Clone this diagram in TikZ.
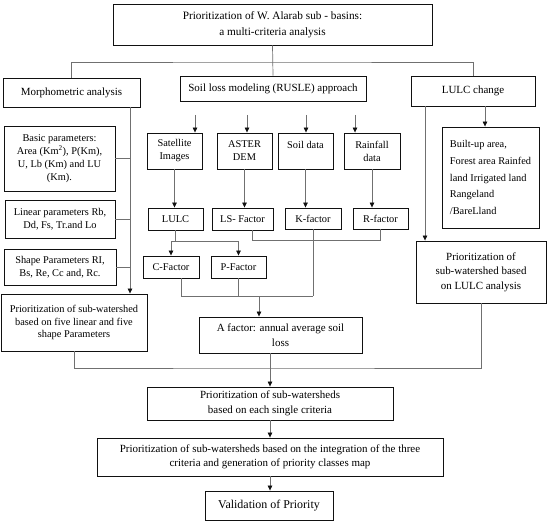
\documentclass[tikz,border=0pt]{standalone}
\usepackage{fontspec}
\setmainfont{Liberation Serif}
\usetikzlibrary{calc,positioning,arrows.meta}
\definecolor{fcInk}{HTML}{111111}
\definecolor{fcLine}{HTML}{707070}

\begin{document}
\begin{tikzpicture}[x=1bp, y=-1bp, font=\rmfamily,
  box/.style={draw=fcInk, line width=0.9bp, align=center, inner sep=1bp,
              font=\fontsize{11}{14.5}\selectfont},
  sbox/.style={box, font=\fontsize{10.4}{13}\selectfont},
  link/.style={draw=fcLine, line width=0.7bp},
  feed/.style={link, -{Triangle[length=5bp, width=4.5bp, color=fcInk]}}]

\useasboundingbox (0,0) rectangle (548,525);

% --- top level ---
\node[box, minimum width=319bp, minimum height=41bp,
      font=\fontsize{11.3}{16}\selectfont] (title) at (272.5,24.5)
  {Prioritization of W. Alarab sub - basins:\\a multi-criteria analysis};
\node[box, minimum width=137bp, minimum height=29bp] (morph) at (71.5,92.5)
  {Morphometric analysis};
\node[box, minimum width=186bp, minimum height=25bp] (soil) at (273,88.5)
  {Soil loss modeling (RUSLE) approach};
\node[box, minimum width=124bp, minimum height=30bp] (lulcchg) at (473,91)
  {LULC change};

% --- morphometric column ---
\node[sbox, minimum width=111bp, minimum height=65bp] (basic) at (59.5,158.5)
  {Basic parameters:\\Area (Km\textsuperscript{2}), P(Km),\\U, Lb (Km) and LU\\(Km).};
\node[sbox, minimum width=110bp, minimum height=38bp] (linear) at (60,219)
  {Linear parameters Rb,\\Dd, Fs, Tr.and Lo};
\node[sbox, minimum width=112bp, minimum height=36bp] (shape) at (60,267)
  {Shape Parameters RI,\\Bs, Re, Cc and, Rc.};
\node[sbox, minimum width=146bp, minimum height=57bp] (prioM) at (74,322.5)
  {Prioritization of sub-watershed\\based on five linear and five\\shape Parameters};

% --- RUSLE inputs ---
\node[sbox, minimum width=55bp, minimum height=36bp] (sat) at (174.5,151)
  {Satellite\\Images};
\node[sbox, minimum width=55bp, minimum height=36bp] (aster) at (244.5,151)
  {ASTER\\DEM};
\node[sbox, minimum width=55bp, minimum height=36bp] (soild) at (305.5,151)
  {Soil data\\~};
\node[sbox, minimum width=56bp, minimum height=36bp] (rain) at (372,151)
  {Rainfall\\data};

% --- RUSLE factors ---
\node[sbox, minimum width=55bp, minimum height=22bp] (lulc) at (175.5,219) {LULC};
\node[sbox, minimum width=61bp, minimum height=22bp] (ls) at (242.5,219) {LS- Factor};
\node[sbox, minimum width=56bp, minimum height=21bp] (kf) at (313,218.5) {K-factor};
\node[sbox, minimum width=55bp, minimum height=21bp] (rf) at (380.5,218.5) {R-factor};
\node[sbox, minimum width=56bp, minimum height=22bp] (cf) at (171,267) {C-Factor};
\node[sbox, minimum width=55bp, minimum height=22bp] (pf) at (238.5,267) {P-Factor};
\node[box, minimum width=163bp, minimum height=36bp] (afac) at (280.5,335)
  {A factor: annual average soil\\loss};

% --- LULC column ---
\node[sbox, minimum width=97bp, minimum height=101bp, align=left,
      font=\fontsize{10.4}{17}\selectfont] (builtup) at (490.5,177.5)
  {Built-up area,\\Forest area Rainfed\\land Irrigated land\\Rangeland\\/BareLland};
\node[box, minimum width=130bp, minimum height=62bp] (prioL) at (481,272)
  {Prioritization of\\sub-watershed based\\on LULC analysis};

% --- final steps ---
\node[box, minimum width=246bp, minimum height=33bp] (single) at (270,403.5)
  {Prioritization of sub-watersheds\\based on each single criteria};
\node[box, minimum width=346bp, minimum height=38bp] (integ) at (270,457)
  {Prioritization of sub-watersheds based on the integration of the three\\criteria and generation of priority classes map};
\node[box, minimum width=128bp, minimum height=29bp,
      font=\fontsize{12}{14}\selectfont] (valid) at (269,505.5)
  {Validation of Priority};

% --- junction points ---
\coordinate (hub) at (272,62);
\coordinate (mline) at (130,107);
\coordinate (lline) at (425,106);
\coordinate (bline) at (485,106);
\coordinate (s1) at (195,115);
\coordinate (s2) at (247,115);
\coordinate (s3) at (306,115);
\coordinate (s4) at (355,115);
\coordinate (cpsplit) at (174,241);
\coordinate (lkr) at (0,240);
\coordinate (cpk) at (259,296);
\coordinate (hub2) at (270,368);

% --- connectors: top level ---
\draw[link] (title.south) -- (soil.north);
\draw[link] (morph.north) |- (hub) -| (lulcchg.north);

% --- connectors: morphometric ---
\draw[feed] (mline) -- (mline |- prioM.north);
\foreach \b in {basic, linear, shape}
  \draw[link] (\b.east) -- (\b.east -| mline);

% --- connectors: RUSLE ---
\foreach \s/\n in {s1/sat, s2/aster, s3/soild, s4/rain}
  \draw[feed] (\s) -- (\s |- \n.north);
\draw[feed] (sat.south) -- (sat.south |- lulc.north);
\draw[feed] (aster.south) -- (aster.south |- ls.north);
\draw[feed] (soild.south) -- (soild.south |- kf.north);
\draw[feed] (rain.south) -- (rain.south |- rf.north);
\draw[link] (lulc.south) -- (lulc.south |- cpsplit);
\draw[feed] (cpsplit) -| (cf.north);
\draw[feed] (cpsplit) -| (pf.north);
\draw[link] ([xshift=10bp]ls.south) |- (rf.south |- lkr) -- (rf.south);
\draw[link] ([xshift=10bp]cf.south) |- (kf.south |- cpk);
\draw[link] (pf.south) -- (pf.south |- cpk);
\draw[link] (kf.south) -- (kf.south |- cpk);
\draw[feed] (cpk) -- (cpk |- afac.north);

% --- connectors: LULC ---
\draw[feed] (bline) -- (bline |- builtup.north);
\draw[feed] (lline) -- (lline |- prioL.north);

% --- connectors: final steps ---
\draw[link] (prioM.south) |- (hub2) -| (prioL.south);
\draw[feed] (afac.south -| single.north) -- (single.north);
\draw[feed] (single.south) -- (integ.north);
\draw[feed] (integ.south) -- (integ.south |- valid.north);

\end{tikzpicture}
\end{document}
